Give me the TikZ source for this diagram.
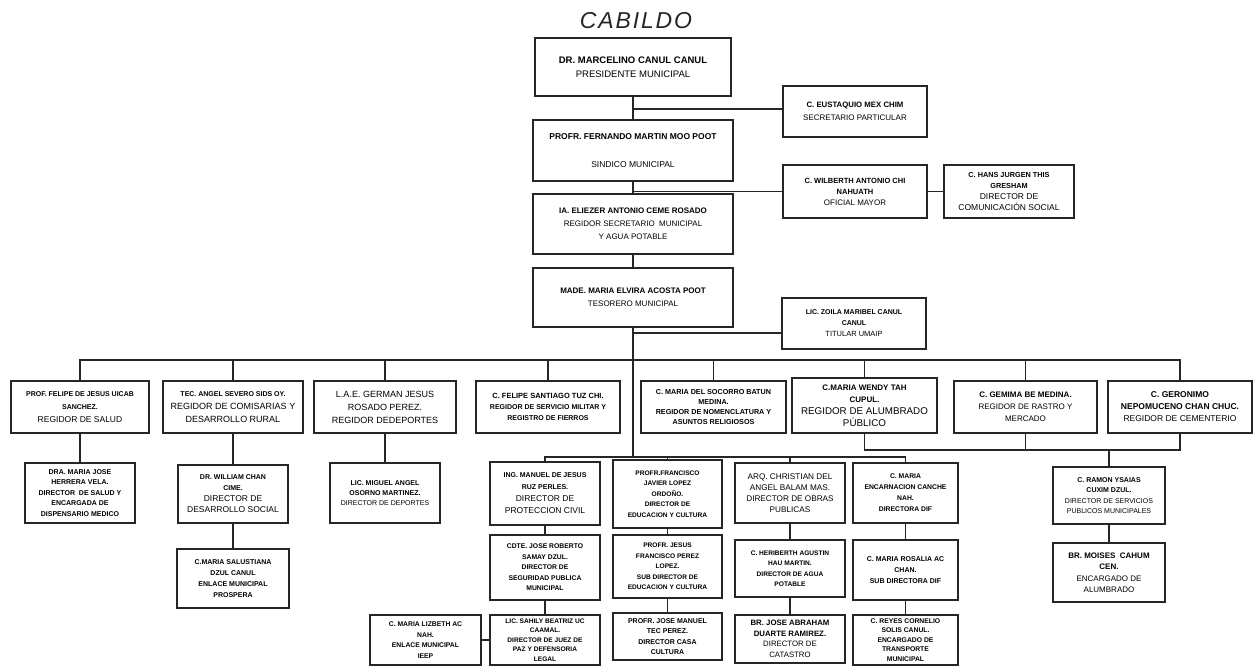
\documentclass[tikz,border=0pt]{standalone}
\usepackage{fontspec}
\setmainfont{Liberation Sans}
\newfontfamily\titlefont[LetterSpace=8]{Liberation Sans}
\newcommand\fz[2]{\fontsize{#1}{#2}\selectfont}
\newcommand\orgbox[7]{%
  \pgfmathsetmacro\obw{#4-#2}\pgfmathsetmacro\obh{#5-#3}%
  \pgfmathsetmacro\obx{(#2+#4)/2}\pgfmathsetmacro\oby{(#3+#5)/2}%
  \node[box, minimum width=\obw pt, minimum height=\obh pt, font=#6] (#1) at (\obx,\oby) {#7};}
\begin{document}
\begin{tikzpicture}[x=1pt,y=-1pt,
  box/.style={draw=black!85, line width=1.2pt, inner sep=1pt, align=center, text=black},
  conn/.style={draw=black!85, line width=1.1pt}]
\useasboundingbox (0,0) rectangle (1256,666);
\fill[white] (0,0) rectangle (1256,666);

\node[font=\titlefont\itshape\fz{23}{25}, text=black!85] (title) at (636,21) {CABILDO};

% central column
\orgbox{pres}{535}{38}{731}{96}{\fz{9.5}{14}}{\textbf{DR. MARCELINO CANUL CANUL}\\PRESIDENTE MUNICIPAL}
\orgbox{secpart}{783}{86}{927}{137}{\fz{8}{13}}{{\fz{7.8}{13}\bfseries C. EUSTAQUIO MEX CHIM}\\SECRETARIO PARTICULAR}
\orgbox{sind}{533}{120}{733}{181}{\fz{8.5}{14}}{\textbf{PROFR. FERNANDO MARTIN MOO POOT}\\ \\SINDICO MUNICIPAL}
\orgbox{ofmay}{783}{165}{927}{218}{\fz{8}{11}}{{\fz{7.5}{11}\bfseries C. WILBERTH ANTONIO CHI}\\{\fz{7.5}{11}\bfseries NAHUATH}\\OFICIAL MAYOR}
\orgbox{comsoc}{944}{165}{1074}{218}{\fz{8.5}{11}}{{\fz{7.3}{11}\bfseries C. HANS JURGEN THIS}\\{\fz{7.3}{11}\bfseries GRESHAM}\\DIRECTOR DE\\COMUNICACIÓN SOCIAL}
\orgbox{regsec}{533}{194}{733}{254}{\fz{8}{13}}{\textbf{IA. ELIEZER ANTONIO CEME ROSADO}\\REGIDOR SECRETARIO\ \ MUNICIPAL\\Y AGUA POTABLE}
\orgbox{tes}{533}{268}{733}{327}{\fz{8}{13}}{\textbf{MADE. MARIA ELVIRA ACOSTA POOT}\\TESORERO MUNICIPAL}
\orgbox{umaip}{782}{298}{926}{349}{\fz{7.5}{11}}{{\fz{7}{11}\bfseries LIC. ZOILA MARIBEL CANUL}\\{\fz{7}{11}\bfseries CANUL}\\TITULAR UMAIP}

% first row
\orgbox{A}{11}{381}{149}{433}{\fz{8.5}{13}}{{\fz{7}{13}\bfseries PROF. FELIPE DE JESUS UICAB}\\{\fz{7}{13}\bfseries SANCHEZ.}\\REGIDOR DE SALUD}
\orgbox{B}{163}{381}{303}{433}{\fz{9}{13}}{{\fz{7}{13}\bfseries TEC. ANGEL SEVERO SIDS OY.}\\REGIDOR DE COMISARIAS Y\\DESARROLLO RURAL}
\orgbox{C}{314}{381}{456}{433}{\fz{9}{13}}{L.A.E. GERMAN JESUS\\ROSADO PEREZ.\\REGIDOR DEDEPORTES}
\orgbox{D}{476}{381}{620}{433}{\fz{7}{11}\bfseries}{{\fz{7.5}{11}C. FELIPE SANTIAGO TUZ CHI.}\\REGIDOR DE SERVICIO MILITAR Y\\REGISTRO DE FIERROS}
\orgbox{E}{641}{381}{786}{433}{\fz{7.2}{10}\bfseries}{C. MARIA DEL SOCORRO BATUN\\MEDINA.\\REGIDOR DE NOMENCLATURA Y\\ASUNTOS RELIGIOSOS}
\orgbox{F}{792}{378}{937}{433}{\fz{9.8}{12}}{{\fz{8}{12}\bfseries C.MARIA WENDY TAH}\\{\fz{8}{12}\bfseries CUPUL.}\\REGIDOR DE ALUMBRADO\\PÚBLICO}
\orgbox{G}{954}{381}{1097}{433}{\fz{8}{12}}{\textbf{C. GEMIMA BE MEDINA.}\\REGIDOR DE RASTRO Y\\MERCADO}
\orgbox{H}{1108}{381}{1252}{433}{\fz{8.5}{12}}{\textbf{C. GERONIMO}\\\textbf{NEPOMUCENO CHAN CHUC.}\\REGIDOR DE CEMENTERIO}

% left lower boxes
\orgbox{A2}{25}{463}{135}{523}{\fz{7}{10.5}\bfseries}{DRA. MARIA JOSE\\HERRERA VELA.\\DIRECTOR\ \ DE SALUD Y\\ENCARGADA DE\\DISPENSARIO MEDICO}
\orgbox{B2}{178}{465}{288}{523}{\fz{8.5}{11}}{{\fz{7}{11}\bfseries DR. WILLIAM CHAN}\\{\fz{7}{11}\bfseries CIME.}\\DIRECTOR DE\\DESARROLLO SOCIAL}
\orgbox{B3}{177}{549}{289}{608}{\fz{7}{11}\bfseries}{C.MARIA SALUSTIANA\\DZUL CANUL\\ENLACE MUNICIPAL\\PROSPERA}
\orgbox{C2}{330}{463}{440}{523}{\fz{7}{10}}{{\bfseries LIC. MIGUEL ANGEL}\\{\bfseries OSORNO MARTINEZ.}\\DIRECTOR DE DEPORTES}

% centre lower boxes
\orgbox{I}{490}{462}{600}{525}{\fz{8.5}{12}}{{\fz{7}{12}\bfseries ING. MANUEL DE JESUS}\\{\fz{7}{12}\bfseries RUZ PERLES.}\\DIRECTOR DE\\PROTECCION CIVIL}
\orgbox{J}{613}{460}{722}{528}{\fz{6.6}{10.5}\bfseries}{PROFR.FRANCISCO\\JAVIER LOPEZ\\ORDOÑO.\\DIRECTOR DE\\EDUCACION Y CULTURA}
\orgbox{K}{735}{463}{845}{523}{\fz{8.2}{11}}{ARQ. CHRISTIAN DEL\\ANGEL BALAM MAS.\\DIRECTOR DE OBRAS\\PUBLICAS}
\orgbox{L}{853}{463}{958}{523}{\fz{6.8}{11}\bfseries}{C. MARIA\\ENCARNACION CANCHE\\NAH.\\DIRECTORA DIF}

\orgbox{I3}{490}{535}{600}{600}{\fz{6.8}{10.5}\bfseries}{CDTE. JOSE ROBERTO\\SAMAY DZUL.\\DIRECTOR DE\\SEGURIDAD PUBLICA\\MUNICIPAL}
\orgbox{J3}{613}{535}{722}{598}{\fz{6.6}{10.5}\bfseries}{PROFR. JESUS\\FRANCISCO PEREZ\\LOPEZ.\\SUB DIRECTOR DE\\EDUCACION Y CULTURA}
\orgbox{K3}{735}{540}{845}{597}{\fz{6.6}{10.5}\bfseries}{C. HERIBERTH AGUSTIN\\HAU MARTIN.\\DIRECTOR DE AGUA\\POTABLE}
\orgbox{L3}{853}{540}{958}{600}{\fz{7}{11}\bfseries}{C. MARIA ROSALIA AC\\CHAN.\\SUB DIRECTORA DIF}

\orgbox{Liz}{370}{615}{481}{665}{\fz{6.8}{10.5}\bfseries}{C. MARIA LIZBETH AC\\NAH.\\ENLACE MUNICIPAL\\IEEP}
\orgbox{I4}{490}{615}{600}{665}{\fz{6.6}{9.6}\bfseries}{LIC. SAHILY BEATRIZ UC\\CAAMAL.\\DIRECTOR DE JUEZ DE\\PAZ Y DEFENSORIA\\LEGAL}
\orgbox{J4}{613}{613}{722}{660}{\fz{7}{10.5}\bfseries}{PROFR. JOSE MANUEL\\TEC PEREZ.\\DIRECTOR CASA\\CULTURA}
\orgbox{K4}{735}{615}{845}{663}{\fz{7.8}{10.5}}{\textbf{BR. JOSE ABRAHAM}\\\textbf{DUARTE RAMIREZ.}\\DIRECTOR DE\\CATASTRO}
\orgbox{L4}{853}{615}{958}{665}{\fz{6.8}{9.6}\bfseries}{C. REYES CORNELIO\\SOLIS CANUL.\\ENCARGADO DE\\TRANSPORTE\\MUNICIPAL}

% right lower boxes
\orgbox{R2}{1053}{467}{1165}{524}{\fz{7}{10.5}}{{\bfseries C. RAMON YSAIAS}\\{\bfseries CUXIM DZUL.}\\DIRECTOR DE SERVICIOS\\PUBLICOS MUNICIPALES}
\orgbox{R3}{1053}{543}{1165}{602}{\fz{8}{11.5}}{\textbf{BR. MOISES\ \ CAHUM}\\\textbf{CEN.}\\ENCARGADO DE\\ALUMBRADO}

% connectors: central spine
\coordinate (bus1) at (633,360);
\coordinate (bus2) at (633,457);
\coordinate (bus3) at (1109,450);
\draw[conn] (pres.south) -- (sind.north);
\draw[conn] (sind.south) -- (regsec.north);
\draw[conn] (regsec.south) -- (tes.north);
\draw[conn] (tes.south) -- (bus2);
\draw[conn] ([yshift=2.5pt]secpart.west) -- ([yshift=2.5pt]secpart.west -| pres.south);
\draw[conn] (ofmay.west) -- (ofmay.west -| sind.south);
\draw[conn] (ofmay.east) -- (comsoc.west);
\draw[conn] ([yshift=-9.5pt]umaip.west) -- ([yshift=-9.5pt]umaip.west -| tes.south);

% first row bus
\draw[conn] (A.north) |- (bus1) -| (H.north);
\foreach \n in {B,C,D,E,F,G}{\draw[conn] (\n.north) -- (\n.north |- bus1);}

% left columns
\draw[conn] (A.south) -- (A2.north);
\draw[conn] (B.south) -- (B2.north);
\draw[conn] (B2.south) -- (B3.north);
\draw[conn] (C.south) -- (C2.north);

% second bus
\draw[conn] (I.north) |- (bus2) -| (L.north);
\draw[conn] (J.north) -- (J.north |- bus2);
\draw[conn] (K.north) -- (K.north |- bus2);
\foreach \a/\b in {I/I3,I3/I4,J/J3,J3/J4,K/K3,K3/K4,L/L3,L3/L4}{\draw[conn] (\a.south) -- (\b.north);}
\draw[conn] (Liz.east) -- (Liz.east -| I4.west);

% right group
\draw[conn] (F.south) |- (bus3) -| (H.south);
\draw[conn] (G.south) -- (G.south |- bus3);
\draw[conn] (bus3) -- (R2.north);
\draw[conn] (R2.south) -- (R3.north);
\end{tikzpicture}
\end{document}
